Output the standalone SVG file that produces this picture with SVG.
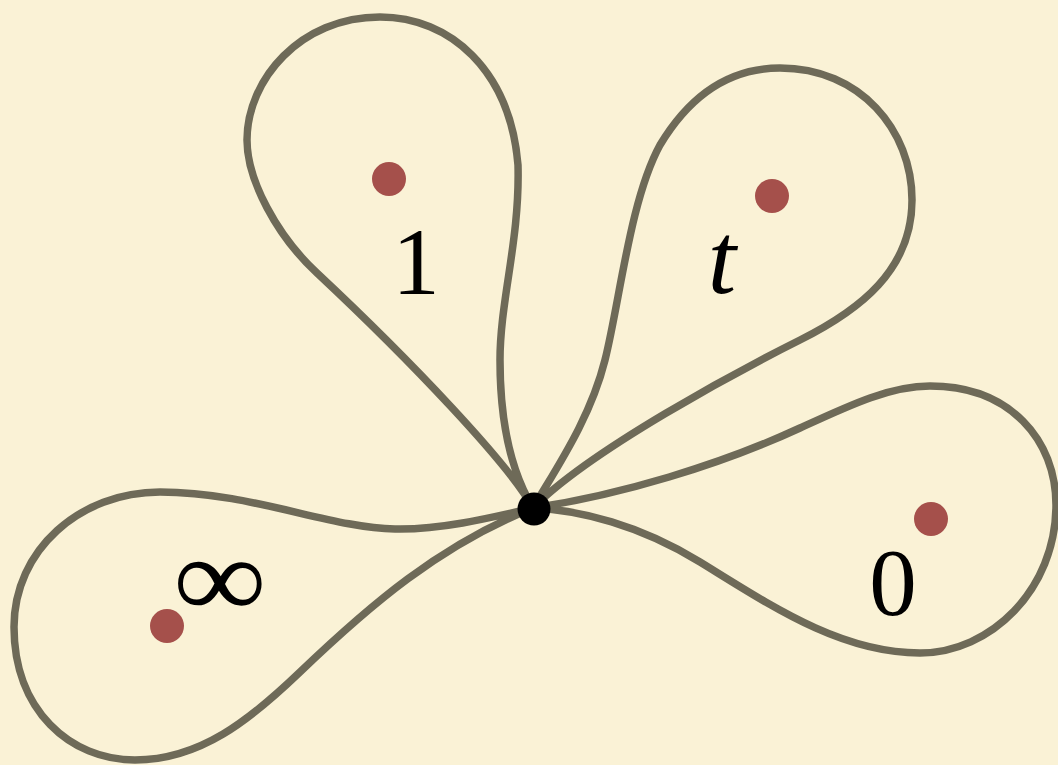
<svg xmlns="http://www.w3.org/2000/svg" width="1058" height="765" viewBox="0 0 1058 765">
<style>
.loop{fill:none;stroke:#6e6a58;stroke-width:7.5;stroke-linejoin:round}
.pt{fill:#a5504b}
.lbl{font-family:"Liberation Serif","Times New Roman",serif;font-size:95px;fill:#000;text-anchor:middle}
.it{font-style:italic;font-size:102px}
</style>
<rect width="1058" height="765" fill="#faf2d6"/>
<g id="connectors">
<path id="loop-1" class="loop" d="M533 508 C510 465 410 360 317 273 C277 236 247 180 247 140 C247 80 300 17 380 17 C450 17 510 70 518 165 C520 240 500 300 500 360 C500 420 510 470 533 508"/>
<path id="loop-t" class="loop" d="M533 508 C555 470 590 420 605 360 C620 300 630 200 660 145 C690 95 730 68 780 68 C860 68 912 130 912 200 C912 270 860 310 800 340 C740 370 590 450 533 508"/>
<path id="loop-0" class="loop" d="M533 508 C620 495 720 465 800 428 C850 405 890 386 930 386 C1010 386 1056 440 1056 505 C1056 590 990 653 920 653 C840 653 770 605 700 562 C640 525 580 510 533 508"/>
<path id="loop-inf" class="loop" d="M533 508 C490 518 440 530 395 529 C330 528 250 492 160 492 C80 492 14 550 14 627 C14 710 70 760 135 760 C200 760 250 720 300 672 C370 605 440 545 533 508"/>
</g>
<g id="node-base"><circle cx="534" cy="509" r="16.5" fill="#000"/></g>
<g id="node-1"><circle class="pt" cx="389" cy="179" r="17"/><text class="lbl" x="416" y="294">1</text></g>
<g id="node-t"><circle class="pt" cx="772" cy="196" r="17"/><text class="lbl it" x="722" y="293">t</text></g>
<g id="node-0"><circle class="pt" cx="931" cy="519" r="17"/><text class="lbl" x="893" y="615">0</text></g>
<g id="node-inf"><circle class="pt" cx="167" cy="626" r="17"/><text class="lbl" transform="translate(220 617) scale(1.14 1)" x="0" y="0" style="font-size:115px">∞</text></g>
</svg>
